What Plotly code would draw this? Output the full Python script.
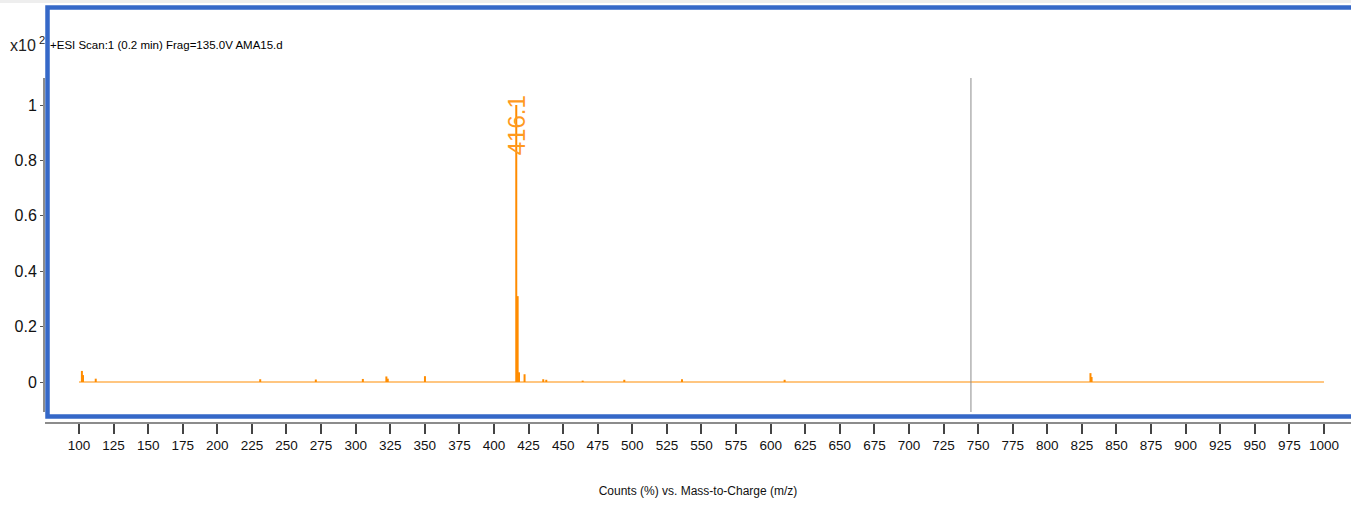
import plotly.graph_objects as go

# ---- data ----
peak_mz = [102.1, 102.9, 112.1, 231.0, 271.2, 305.2, 322.2, 323.2, 350.1,
           416.1, 417.1, 418.1, 422.1, 435.6, 437.8, 464.1, 494.2, 535.9,
           610.1, 831.2, 832.0]
peak_int = [0.040, 0.025, 0.012, 0.010, 0.009, 0.011, 0.020, 0.012, 0.021,
            1.000, 0.310, 0.035, 0.028, 0.010, 0.008, 0.005, 0.008, 0.010,
            0.008, 0.032, 0.018]
scan_start = 100
scan_end = 1000
label_mz = 416.1
label_text = "416.1"
cursor_mz = 744.8
x_ticks = list(range(100, 1001, 25))
y_ticks = [0, 0.2, 0.4, 0.6, 0.8, 1]
y_tick_text = ["0", "0.2", "0.4", "0.6", "0.8", "1"]

FONT = "Liberation Sans Narrow, Arial Narrow, Liberation Sans, Arial, sans-serif"
W, H = 1351, 511
L, R, T, B = 45, 0, 78, 89
px_per_mz = 1.3833
x_lo = 100 - (79 - L) / px_per_mz
x_hi = 100 + (W - R - 79) / px_per_mz
px_per_y = 277.0
y_lo = -(422 - 382) / px_per_y
y_hi = (382 - T) / px_per_y

# stick arrays
sx, sy = [], []
for m, v in zip(peak_mz, peak_int):
    sx += [m, m, None]
    sy += [0, v, None]

fig = go.Figure()
fig.add_trace(go.Scatter(x=[scan_start, scan_end], y=[0, 0], mode="lines",
                         line=dict(color="#FFC680", width=2), hoverinfo="skip",
                         showlegend=False))
fig.add_trace(go.Scatter(x=sx, y=sy, mode="lines",
                         line=dict(color="#FF8C00", width=2), hoverinfo="skip",
                         showlegend=False))

plot_h = H - T - B
plot_w = W - L - R
def py(pix):
    return (H - B - pix) / plot_h
def px(pix):
    return (pix - L) / plot_w

shapes = [
    # top grey strip
    dict(type="rect", xref="paper", yref="paper", x0=px(0), x1=px(W), y0=py(0), y1=py(3),
         line=dict(width=0), fillcolor="#EEEEEE", layer="below"),
    # blue frame
    dict(type="rect", xref="paper", yref="paper", x0=px(47.5), x1=px(W + 10),
         y0=py(416.5), y1=py(7.5), line=dict(color="#3568C8", width=4.5)),
    # y axis line
    dict(type="line", xref="paper", yref="y", x0=px(44), x1=px(44), y0=y_lo + 10 / px_per_y,
         y1=y_hi, line=dict(color="#8C8C8C", width=2)),
    # cursor line
    dict(type="line", xref="x", yref="y", x0=cursor_mz, x1=cursor_mz,
         y0=y_lo + 10 / px_per_y, y1=y_hi, line=dict(color="#8C8C8C", width=1)),
]

annotations = [
    dict(x=label_mz, y=(382 - 125) / px_per_y, xref="x", yref="y", text=label_text,
         textangle=-90, showarrow=False, xanchor="center", yanchor="middle",
         font=dict(family=FONT, size=24, color="#FF9A1E")),
    dict(x=px(48), y=py(45), xref="paper", yref="paper",
         text="+ESI Scan:1 (0.2 min) Frag=135.0V AMA15.d", showarrow=False,
         xanchor="left", yanchor="middle", font=dict(family=FONT, size=11.5, color="#000000")),
    dict(x=px(8), y=py(44), xref="paper", yref="paper", text="x10<sup> 2</sup>",
         showarrow=False, xanchor="left", yanchor="middle",
         font=dict(family=FONT, size=16, color="#222222")),
]

fig.update_layout(
    width=W, height=H,
    margin=dict(l=L, r=R, t=T, b=B, pad=0),
    paper_bgcolor="white", plot_bgcolor="white",
    shapes=shapes, annotations=annotations,
    font=dict(family=FONT, color="#111111"),
    xaxis=dict(range=[x_lo, x_hi], tickmode="array", tickvals=x_ticks,
               ticktext=[str(t) for t in x_ticks], showgrid=False, zeroline=False,
               showline=True, linecolor="#8C8C8C", linewidth=2, mirror=False,
               ticks="outside", ticklen=10, tickwidth=1.5, tickcolor="#444444",
               tickfont=dict(family=FONT, size=13.5, color="#111111"),
               title=dict(text="Counts (%) vs. Mass-to-Charge (m/z)", standoff=34,
                          font=dict(family=FONT, size=12, color="#111111"))),
    yaxis=dict(range=[y_lo, y_hi], tickmode="array", tickvals=y_ticks,
               ticktext=y_tick_text, showgrid=False, zeroline=False, showline=False,
               ticks="outside", ticklen=4, tickwidth=1, tickcolor="#555555",
               tickfont=dict(family=FONT, size=16, color="#111111")),
)

fig.write_html("out.html", post_script="document.body.style.margin='0';",
               config={"displayModeBar": False})
